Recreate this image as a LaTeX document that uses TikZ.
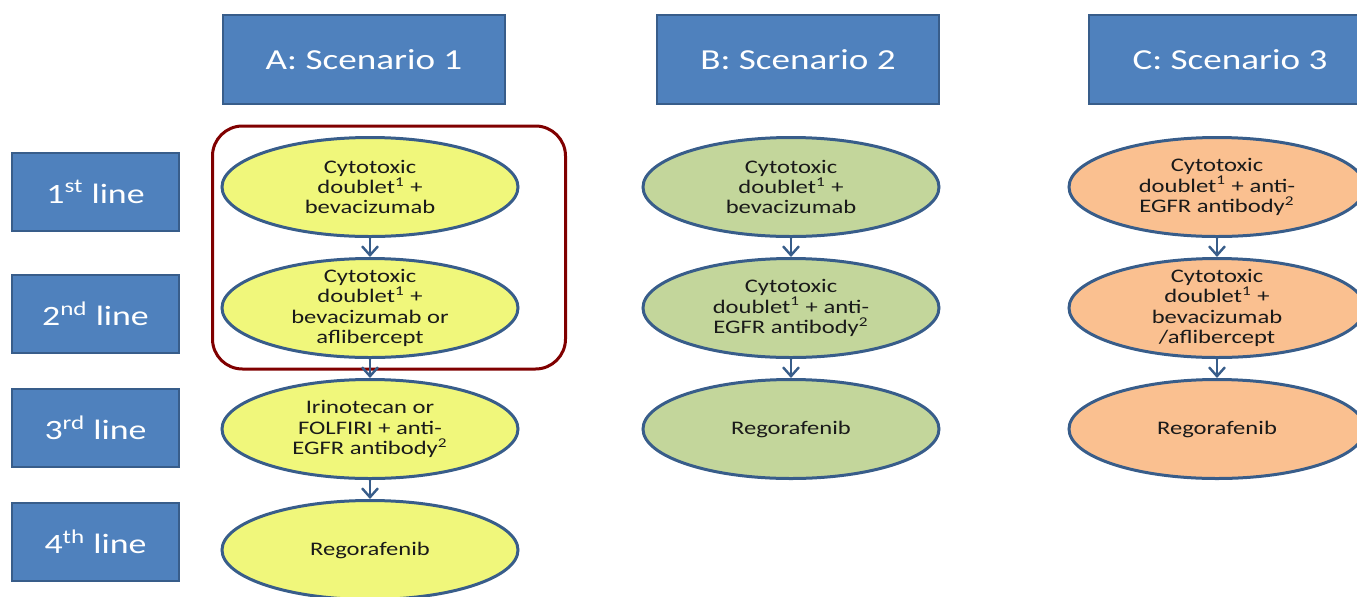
\documentclass[tikz,border=0pt]{standalone}
\usepackage{fontspec}
\setmainfont{Carlito}[FakeStretch=1.28]
\usetikzlibrary{shapes.geometric, arrows.meta, positioning, fit}
\definecolor{TitleBlue}{HTML}{4F81BD}
\definecolor{EdgeBlue}{HTML}{385D8A}
\definecolor{PaleYellow}{HTML}{F0F77B}
\definecolor{SageGreen}{HTML}{C3D69B}
\definecolor{Apricot}{HTML}{FAC090}
\definecolor{DarkRed}{HTML}{800000}
\definecolor{InkGray}{HTML}{1A1A1A}

\begin{document}
\begin{tikzpicture}[
    x=0.5pt, y=-0.5pt,
    node distance=9.5pt and 74.75pt,
    head/.style={rectangle, draw=EdgeBlue, fill=TitleBlue, line width=1.25pt, minimum width=141pt, minimum height=44.5pt, text=white, font=\fontsize{14.5}{17}\selectfont},
    linebox/.style={rectangle, draw=EdgeBlue, fill=TitleBlue, line width=1.25pt, minimum width=83.5pt, minimum height=39pt, text=white, font=\fontsize{14}{17}\selectfont},
    regimen/.style={ellipse, draw=EdgeBlue, line width=1.5pt, minimum width=148pt, minimum height=49.5pt, inner xsep=0pt, inner ysep=-4pt, align=center, text=InkGray, font=\fontsize{9.6}{10.2}\selectfont},
    regA/.style={regimen, fill=PaleYellow},
    regB/.style={regimen, fill=SageGreen},
    regC/.style={regimen, fill=Apricot},
    frame/.style={draw=DarkRed, line width=1.5pt, rounded corners=15pt},
    arr/.style={-{Straight Barb[length=4.5pt, width=8pt]}, line width=1.2pt, color=EdgeBlue}
]
    \useasboundingbox (0,0) rectangle (1357,596);

    % Scenario headers
    \node[head] (scA) at (364,59.5) {A: Scenario 1};
    \node[head, right=of scA] (scB) {B: Scenario 2};
    \node[head, right=73.75pt of scB] (scC) {C: Scenario 3};

    % Treatment lines
    \node[linebox] (l1) at (95.5,192) {1\textsuperscript{st} line};
    \node[linebox, below=20.75pt of l1] (l2) {2\textsuperscript{nd} line};
    \node[linebox, below=16.75pt of l2] (l3) {3\textsuperscript{rd} line};
    \node[linebox, below=16.75pt of l3] (l4) {4\textsuperscript{th} line};

    % Scenario 1
    \node[regA] (a1) at (370,187) {Cytotoxic\\doublet\textsuperscript{1} +\\bevacizumab};
    \node[regA, below=of a1] (a2) {Cytotoxic\\doublet\textsuperscript{1} +\\bevacizumab or\\aflibercept};
    \node[regA, below=of a2] (a3) {Irinotecan or\\FOLFIRI + anti-\\EGFR antibody\textsuperscript{2}};
    \node[regA, below=of a3] (a4) {Regorafenib};
    \node[frame, fit=(a1)(a2), inner xsep=13.5pt, inner ysep=5pt, xshift=9.5pt] (focus) {};

    % Scenario 2
    \node[regB] (b1) at (791,187) {Cytotoxic\\doublet\textsuperscript{1} +\\bevacizumab};
    \node[regB, below=of b1] (b2) {Cytotoxic\\doublet\textsuperscript{1} + anti-\\EGFR antibody\textsuperscript{2}};
    \node[regB, below=of b2] (b3) {Regorafenib};

    % Scenario 3
    \node[regC] (c1) at (1217,187) {Cytotoxic\\doublet\textsuperscript{1} + anti-\\EGFR antibody\textsuperscript{2}};
    \node[regC, below=of c1] (c2) {Cytotoxic\\doublet\textsuperscript{1} +\\bevacizumab\\/aflibercept};
    \node[regC, below=of c2] (c3) {Regorafenib};

    % Connections
    \draw[arr] (a1) -- (a2);
    \draw[arr] (a2) -- (a3);
    \draw[arr] (a3) -- (a4);
    \draw[arr] (b1) -- (b2);
    \draw[arr] (b2) -- (b3);
    \draw[arr] (c1) -- (c2);
    \draw[arr] (c2) -- (c3);
\end{tikzpicture}
\end{document}
